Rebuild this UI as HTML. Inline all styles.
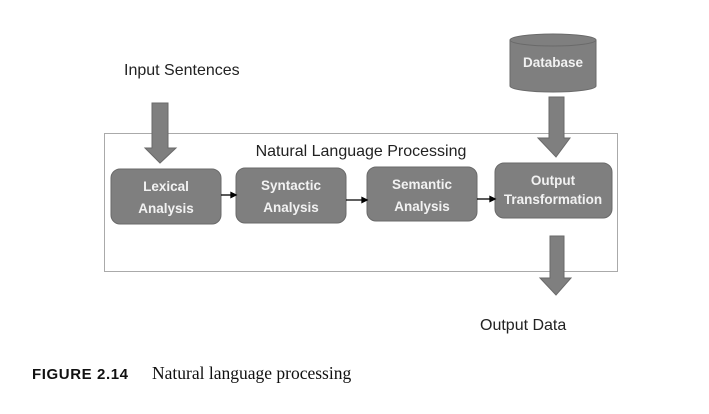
<!DOCTYPE html>
<html><head><meta charset="utf-8"><style>
html,body{margin:0;padding:0;background:#fff;}
svg{display:block;}
.b{font-family:"Liberation Sans",sans-serif;font-weight:bold;font-size:13.5px;fill:#f2f2f2;text-anchor:middle;}
.t{font-family:"Liberation Sans",sans-serif;font-size:16px;fill:#222;}
</style></head><body>
<svg width="709" height="414" viewBox="0 0 709 414" xmlns="http://www.w3.org/2000/svg">
<rect x="104.5" y="133.5" width="513" height="138" fill="none" stroke="#aaa" stroke-width="1"/>
<text class="t" x="124" y="75">Input Sentences</text>
<text class="t" x="361" y="156" text-anchor="middle">Natural Language Processing</text>
<text class="t" x="480" y="330">Output Data</text>
<g fill="#7f7f7f" stroke="#6a6a6a" stroke-width="1">
<polygon points="152,103 168,103 168,148 176,148 160,163 145,148 152,148"/>
<polygon points="549,97 564,97 564,138 570,138 556,157 538,138 549,138"/>
<polygon points="550,236 564,236 564,278 571,278 556,295 540,278 550,278"/>
<rect x="111" y="169" width="110" height="55" rx="9"/>
<rect x="236" y="168" width="110" height="55" rx="9"/>
<rect x="367" y="167" width="110" height="54" rx="9"/>
<rect x="495" y="163" width="117" height="55" rx="9"/>
<path d="M510,40 L510,86 A43,6 0 0 0 596,86 L596,40"/>
<ellipse cx="553" cy="40" rx="43" ry="6"/>
</g>
<g stroke="#000" stroke-width="1.3" fill="#000">
<line x1="221" y1="195" x2="232" y2="195"/><polygon points="236,195 231,192.5 231,197.5"/>
<line x1="346" y1="200" x2="363" y2="200"/><polygon points="367,200 362,197.5 362,202.5"/>
<line x1="477" y1="199" x2="491" y2="199"/><polygon points="495,199 490,196.5 490,201.5"/>
</g>
<text class="b" x="166" y="191">Lexical</text><text class="b" x="166" y="213">Analysis</text>
<text class="b" x="291" y="190">Syntactic</text><text class="b" x="291" y="212">Analysis</text>
<text class="b" x="422" y="189">Semantic</text><text class="b" x="422" y="211">Analysis</text>
<text class="b" x="553" y="185">Output</text><text class="b" x="553" y="204">Transformation</text>
<text class="b" x="553" y="67">Database</text>
<text x="32" y="379" style="font-family:'Liberation Sans',sans-serif;font-weight:bold;font-size:15px;letter-spacing:0.6px;fill:#111">FIGURE 2.14</text>
<text x="152" y="379" style="font-family:'Liberation Serif',serif;font-size:17.5px;fill:#111">Natural language processing</text>
</svg>
</body></html>
